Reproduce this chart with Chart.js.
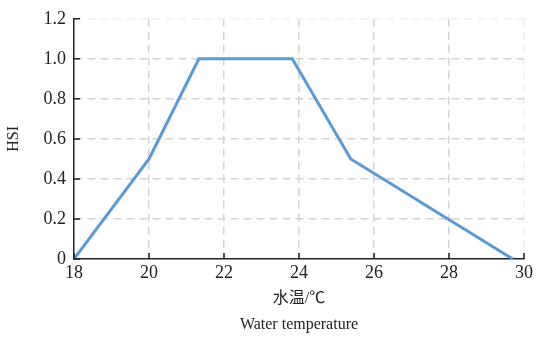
<!DOCTYPE html>
<html>
<head>
<meta charset="utf-8">
<script src="https://cdn.jsdelivr.net/npm/chart.js@4/dist/chart.umd.min.js"></script>
<style>
  html, body { margin: 0; padding: 0; background: #fff; }
  #wrap { width: 536px; height: 339px; }
</style>
</head>
<body>
<div id="wrap"><canvas id="hsiChart"></canvas></div>
<script>
// water temperature (x) vs HSI (y)
const waterTemp = [18, 20, 21.33, 23.82, 25.38, 29.7];
const hsiValues = [0, 0.5, 1.0, 1.0, 0.5, 0];
const xTicks = [18, 20, 22, 24, 26, 28, 30];
const yTicks = [0, 0.2, 0.4, 0.6, 0.8, 1.0, 1.2];

const fontFamily = '"Liberation Serif", "Noto Sans CJK SC", serif';
const axisColor = '#222';
const gridColor = '#d4d4d4';
const edgeColor = '#f0f0f0';

// short ticks pointing into the plot
const innerTicks = {
  id: 'innerTicks',
  afterDatasetsDraw(chart) {
    const { ctx, chartArea, scales } = chart;
    ctx.save();
    ctx.strokeStyle = axisColor;
    ctx.lineWidth = 1.5;
    ctx.beginPath();
    xTicks.forEach(v => {
      const px = scales.x.getPixelForValue(v);
      ctx.moveTo(px, chartArea.bottom);
      ctx.lineTo(px, chartArea.bottom - 6);
    });
    yTicks.forEach(v => {
      const py = scales.y.getPixelForValue(v);
      ctx.moveTo(chartArea.left, py);
      ctx.lineTo(chartArea.left + 6, py);
    });
    ctx.stroke();
    ctx.restore();
  }
};

const ctx = document.getElementById('hsiChart').getContext('2d');
const hsiChart = new Chart(ctx, {
  type: 'scatter',
  data: {
    datasets: [{
      label: 'HSI',
      data: waterTemp.map((t, i) => ({ x: t, y: hsiValues[i] })),
      showLine: true,
      borderColor: 'rgb(91, 155, 213)',
      borderWidth: 3,
      pointRadius: 0,
      tension: 0,
      fill: false
    }]
  },
  options: {
    responsive: true,
    maintainAspectRatio: false,
    animation: false,
    layout: { padding: { top: 10, right: 9, left: 0, bottom: 0 } },
    plugins: { legend: { display: false }, tooltip: { enabled: false } },
    scales: {
      x: {
        type: 'linear',
        min: 18,
        max: 30,
        afterBuildTicks: s => { s.ticks = xTicks.map(v => ({ value: v })); },
        afterFit: s => { s.height = 80; },
        ticks: {
          color: '#222',
          padding: 3,
          font: { family: fontFamily, size: 18 },
          callback: v => String(v)
        },
        grid: {
          drawTicks: false,
          tickLength: 0,
          lineWidth: 1.5,
          color: c => {
            if (!c.tick) return gridColor;
            if (c.tick.value === 18) return 'rgba(0,0,0,0)';
            return c.tick.value === 30 ? edgeColor : gridColor;
          }
        },
        border: { display: true, color: axisColor, width: 1.5, dash: [8, 5] },
        title: {
          display: true,
          text: ['水温/℃', 'Water temperature'],
          color: '#222',
          font: { family: fontFamily, size: 16, lineHeight: '26px' },
          padding: { top: 0, bottom: 1 }
        }
      },
      y: {
        min: 0,
        max: 1.2,
        afterBuildTicks: s => { s.ticks = yTicks.map(v => ({ value: v })); },
        afterFit: s => { s.width = 74; },
        ticks: {
          color: '#222',
          padding: 8,
          font: { family: fontFamily, size: 18 },
          callback: v => v === 0 ? '0' : v.toFixed(1)
        },
        grid: {
          drawTicks: false,
          tickLength: 0,
          lineWidth: 1.5,
          color: c => {
            if (!c.tick) return gridColor;
            if (c.tick.value === 0) return 'rgba(0,0,0,0)';
            return c.tick.value === 1.2 ? edgeColor : gridColor;
          }
        },
        border: { display: true, color: axisColor, width: 1.5, dash: [8, 5] },
        title: {
          display: true,
          text: 'HSI',
          color: '#222',
          font: { family: fontFamily, size: 16 },
          padding: { top: 4, bottom: 0 }
        }
      }
    }
  },
  plugins: [innerTicks]
});
</script>
</body>
</html>
